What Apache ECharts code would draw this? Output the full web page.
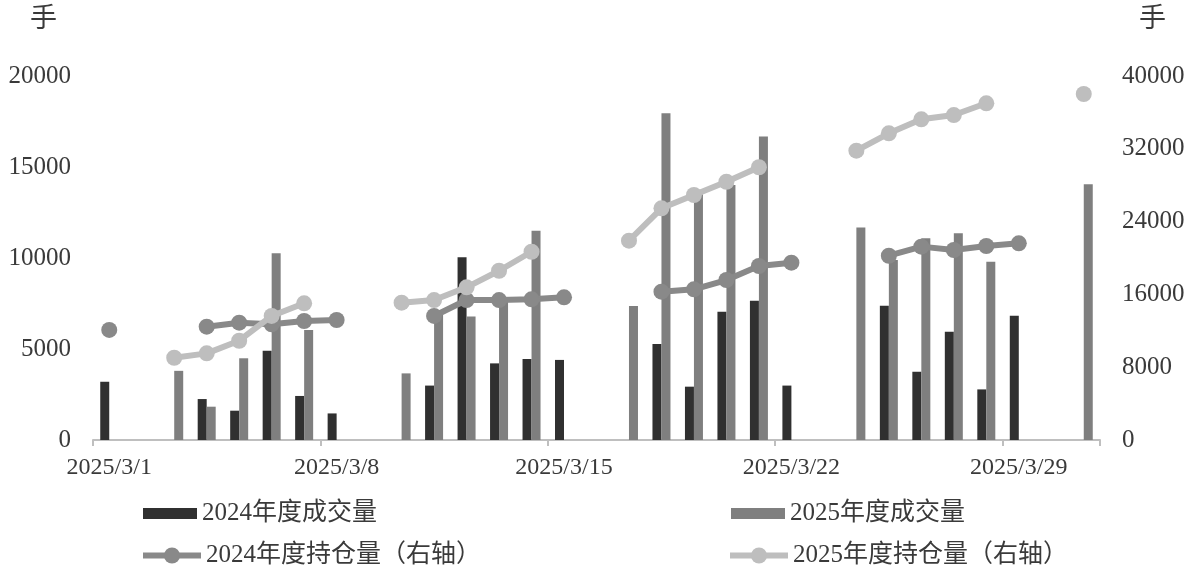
<!DOCTYPE html>
<html>
<head>
<meta charset="utf-8">
<script src="https://cdn.jsdelivr.net/npm/echarts@6/dist/echarts.min.js"></script>
<style>html,body{margin:0;padding:0;background:#fff;}#c{width:1199px;height:585px;}</style>
</head>
<body>
<div id="c"></div>
<script>
var categories = [];
for (var d = 1; d <= 31; d++) categories.push('2025/3/' + d);

var vol2024 = [3200,null,null,2250,1610,4910,2420,1460,null,null,2990,10040,4210,4450,4400,null,null,5270,2930,7050,7650,2990,null,null,7380,3750,5950,2780,6830,null,null];
var vol2025 = [null,null,3800,1830,4490,10260,6040,null,null,3660,7000,6780,7700,11500,null,null,7360,17950,13500,14010,16670,null,null,11670,9890,11080,11360,9800,null,null,14050];
var oi2024 = [12100,null,null,12450,12890,12710,13080,13190,null,null,13630,15380,15380,15460,15680,null,null,16300,16560,17580,19120,19490,null,null,20250,21250,20880,21320,21610,null,null];
var oi2025 = [null,null,9040,9520,10910,13630,15020,null,null,15090,15380,16780,18600,20690,null,null,21900,25460,26920,28380,29970,null,null,31790,33700,35240,35710,37000,null,null,38020];

var leftTicks = [0, 5000, 10000, 15000, 20000];
var rightTicks = [0, 8000, 16000, 24000, 32000, 40000];
var names = ['2024年度成交量', '2025年度成交量', '2024年度持仓量（右轴）', '2025年度持仓量（右轴）'];
var unitText = '手';

var FONT = "'Liberation Serif', 'Noto Sans CJK SC', serif";
var TXT = '#3a3a3a';

var chart = echarts.init(document.getElementById('c'), null, {renderer: 'canvas'});

function legendAt(name, left, top, isBar, color) {
  var l = {
    data: [name],
    left: left, top: top,
    orient: 'horizontal',
    itemWidth: isBar ? 54 : 58,
    itemHeight: isBar ? 11 : 20,
    itemGap: 0,
    padding: 0,
    selectedMode: false,
    textStyle: {fontFamily: FONT, fontSize: 25, color: TXT}
  };
  if (isBar) { l.icon = 'rect'; }
  else { l.lineStyle = {width: 6, color: color}; l.itemStyle = {color: color}; }
  return l;
}

function plain(v) { return String(v); }

var option = {
  animation: false,
  backgroundColor: '#ffffff',
  grid: {left: 93, right: 99, top: 76, bottom: 145, containLabel: false},
  legend: [
    legendAt(names[0], 143, 501, true),
    legendAt(names[1], 731, 501, true),
    legendAt(names[2], 140, 543, false, '#898989'),
    legendAt(names[3], 727, 543, false, '#bebebe')
  ],
  graphic: [
    {type: 'text', left: 30, top: 6, style: {text: unitText, font: "27px " + FONT, fill: TXT}},
    {type: 'text', left: 1139, top: 6, style: {text: unitText, font: "27px " + FONT, fill: TXT}}
  ],
  xAxis: {
    type: 'category',
    data: categories,
    boundaryGap: true,
    axisLine: {show: true, lineStyle: {color: '#bfbfbf', width: 2}},
    axisTick: {show: true, length: 6, lineStyle: {color: '#bfbfbf', width: 2},
      interval: function (i) { return i % 7 === 0; }},
    axisLabel: {interval: 6, margin: 16, fontFamily: FONT, fontSize: 24, color: TXT},
    splitLine: {show: false}
  },
  yAxis: [
    {
      type: 'value', min: leftTicks[0], max: leftTicks[leftTicks.length - 1], interval: 5000,
      axisLine: {show: false}, axisTick: {show: false}, splitLine: {show: false},
      axisLabel: {margin: 22, fontFamily: FONT, fontSize: 25, color: TXT, formatter: plain}
    },
    {
      type: 'value', min: rightTicks[0], max: rightTicks[rightTicks.length - 1], interval: 8000,
      position: 'right',
      axisLine: {show: false}, axisTick: {show: false}, splitLine: {show: false},
      axisLabel: {margin: 22, fontFamily: FONT, fontSize: 25, color: TXT, formatter: plain}
    }
  ],
  series: [
    {name: names[0], type: 'bar', data: vol2024, yAxisIndex: 0, barWidth: 9, barGap: '0%',
      itemStyle: {color: '#303030'}, z: 2},
    {name: names[1], type: 'bar', data: vol2025, yAxisIndex: 0, barWidth: 9, barGap: '0%',
      itemStyle: {color: '#7f7f7f'}, z: 2},
    {name: names[2], type: 'line', data: oi2024, yAxisIndex: 1, connectNulls: false,
      symbol: 'circle', symbolSize: 16, showAllSymbol: true,
      lineStyle: {color: '#898989', width: 6}, itemStyle: {color: '#898989'}, z: 3},
    {name: names[3], type: 'line', data: oi2025, yAxisIndex: 1, connectNulls: false,
      symbol: 'circle', symbolSize: 16, showAllSymbol: true,
      lineStyle: {color: '#bebebe', width: 6}, itemStyle: {color: '#bebebe'}, z: 4}
  ]
};
chart.setOption(option);
</script>
</body>
</html>
